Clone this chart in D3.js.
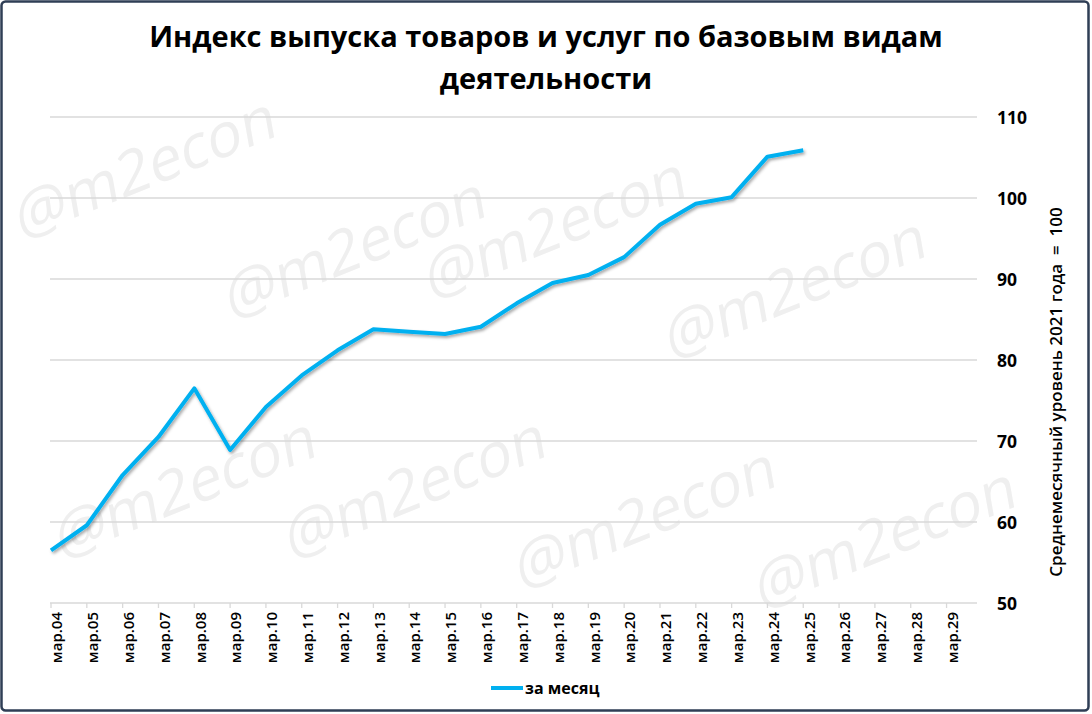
<!DOCTYPE html>
<html><head><meta charset="utf-8">
<script src="https://cdn.jsdelivr.net/npm/d3@7"></script>
<style>body{margin:0;background:#fff}svg{display:block}</style>
</head><body><svg id="c" width="1092" height="714"></svg>
<script>
const categories = ["мар.04","мар.05","мар.06","мар.07","мар.08","мар.09","мар.10","мар.11","мар.12","мар.13","мар.14","мар.15","мар.16","мар.17","мар.18","мар.19","мар.20","мар.21","мар.22","мар.23","мар.24","мар.25","мар.26","мар.27","мар.28","мар.29"];
const values = [56.5,59.6,65.8,70.5,76.5,68.9,74.2,78.1,81.2,83.8,83.5,83.2,84.1,87.0,89.5,90.5,92.7,96.7,99.3,100.1,105.1,105.9];
const yTicks = [50,60,70,80,90,100,110];
const titleLines = ["Индекс выпуска товаров и услуг по базовым видам","деятельности"];
const yTitle = "Среднемесячный уровень 2021 года  =  100";
const seriesName = "за месяц";
const watermark = "@m2econ";

const svg = d3.select("#c");
const font = "'Open Sans', 'Liberation Sans', sans-serif";
const L = 51, R = 977, T = 117, B = 603;
const x = d3.scaleLinear().domain([0, 25.85]).range([L, R]);
const y = d3.scaleLinear().domain([50, 110]).range([B, T]);

// watermarks (kept inside the frame)
const wm = [[20,240],[430,300],[670,360],[60,560],[290,560],[520,590],[760,610],[230,320]];
svg.append("g").selectAll("text").data(wm).join("text")
  .attr("transform", d => `translate(${d[0]},${d[1]}) rotate(-22) skewX(-12)`)
  .attr("font-family", font).attr("font-size", 60).attr("fill", "#efefef")
  .text(watermark);

// gridlines
const g = svg.append("g");
g.selectAll("line.grid").data(yTicks).join("line")
  .attr("x1", L - 1).attr("x2", R).attr("y1", d => y(d)).attr("y2", d => y(d))
  .attr("stroke", "#d9d9d9").attr("stroke-width", 1.3);

// y axis labels (right)
const yAxis = d3.axisRight(y).tickValues(yTicks).tickSize(0).tickPadding(0);
const ya = svg.append("g").attr("transform", `translate(${R + 20},0)`).call(yAxis);
ya.select(".domain").remove();
ya.selectAll("text").attr("font-family", font).attr("font-size", 17.5).attr("font-weight", "bold").attr("fill", "#000").attr("dy", "0.35em");

// x axis ticks
const xa = svg.append("g");
xa.selectAll("line").data(categories).join("line")
  .attr("x1", (d,i) => x(i)).attr("x2", (d,i) => x(i)).attr("y1", B).attr("y2", B + 5)
  .attr("stroke", "#d9d9d9").attr("stroke-width", 1.3);
xa.selectAll("text").data(categories).join("text")
  .attr("transform", (d,i) => `translate(${x(i) + 6},${B + 9}) rotate(-90)`)
  .attr("text-anchor", "end").attr("dy", "0.35em")
  .attr("font-family", font).attr("font-size", 15).attr("font-weight", 600).attr("fill", "#000")
  .text(d => d);

// shadow filter
const defs = svg.append("defs");
const f = defs.append("filter").attr("id", "sh").attr("x", "-10%").attr("y", "-10%").attr("width", "120%").attr("height", "120%");
f.append("feDropShadow").attr("dx", 1.5).attr("dy", 2).attr("stdDeviation", 1.5).attr("flood-color", "#000").attr("flood-opacity", 0.35);

// line
const line = d3.line().x((d,i) => x(i)).y(d => y(d));
svg.append("path").datum(values).attr("d", line)
  .attr("fill", "none").attr("stroke", "#00b0f0").attr("stroke-width", 4)
  .attr("stroke-linejoin", "round").attr("filter", "url(#sh)");

// title
svg.append("g").selectAll("text").data(titleLines).join("text")
  .attr("x", 546).attr("y", (d,i) => 47 + i * 42)
  .attr("text-anchor", "middle").attr("font-family", font)
  .attr("font-size", 29).attr("font-weight", "bold").attr("fill", "#000")
  .text(d => d);

// y title
svg.append("text").attr("transform", "translate(1062,392) rotate(-90)")
  .attr("text-anchor", "middle").attr("font-family", font).attr("font-size", 17)
  .attr("font-weight", 600).attr("fill", "#000").attr("xml:space", "preserve")
  .style("white-space", "pre").text(yTitle);

// legend
svg.append("line").attr("x1", 491).attr("x2", 523).attr("y1", 688).attr("y2", 688)
  .attr("stroke", "#00b0f0").attr("stroke-width", 4);
svg.append("text").attr("x", 525).attr("y", 688).attr("dy", "0.35em")
  .attr("font-family", font).attr("font-size", 16).attr("font-weight", "bold").attr("fill", "#000")
  .text(seriesName);

// border
svg.append("rect").attr("x", 1.5).attr("y", 1.5).attr("width", 1087).attr("height", 709).attr("rx", 4)
  .attr("fill", "none").attr("stroke", "#2f3e55").attr("stroke-width", 2.5);
</script></body></html>
